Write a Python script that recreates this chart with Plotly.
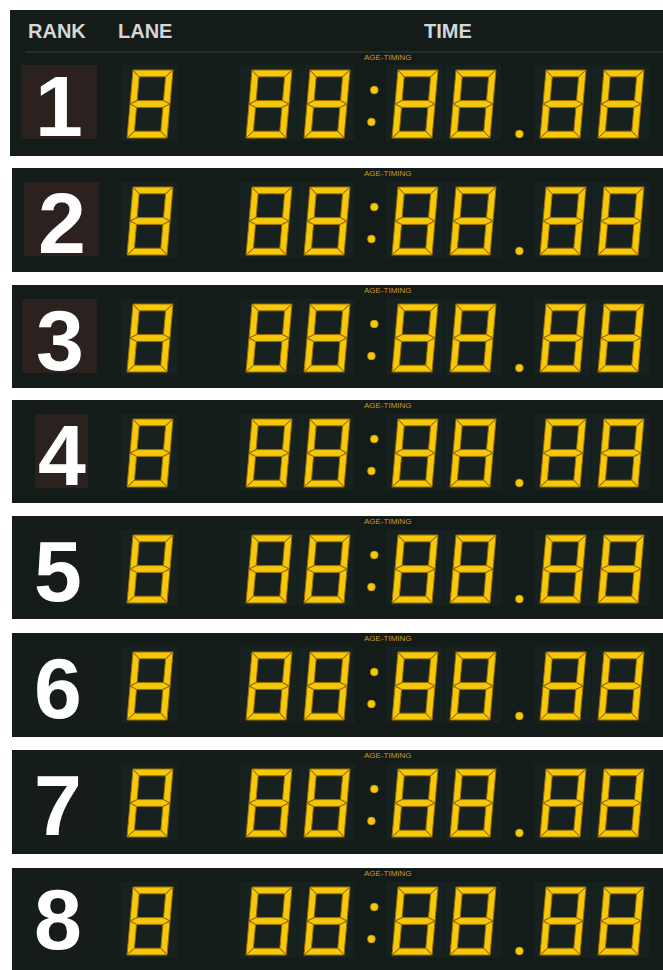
import plotly.graph_objects as go

# ---------------- data ----------------
ranks = ["1", "2", "3", "4", "5", "6", "7", "8"]
lanes = ["8", "8", "8", "8", "8", "8", "8", "8"]
times = ["88:88.88", "88:88.88", "88:88.88", "88:88.88",
         "88:88.88", "88:88.88", "88:88.88", "88:88.88"]
header_labels = ["RANK", "LANE", "TIME"]
brand_label = "AGE-TIMING"

# ---------------- layout constants ----------------
FIG_W, FIG_H = 663, 970
PANEL_COLOR = "#141c1a"
SEG_FILL = "#f5c80a"
SEG_LINE = "#9c6f00"
panel_top = [10, 168, 285, 400, 516, 633, 750, 868]
panel_bot = [156, 272, 388, 503, 619, 737, 854, 980]
panel_left = [10, 12, 12, 12, 12, 12, 12, 12]
digit_bot = [138, 255, 372, 487, 603, 720, 837, 955]
rank_y_off = [32, 32, 32, 32, 32, 32, 32, 36]
rank_box = [(21, 97, "#2b221f"), (24, 99, "#2b221f"), (22, 97, "#2b221f"),
            (35, 88, "#2a221f"), (37, 92, "#161c1a"), (31, 92, "#161c1a"),
            (35, 92, "#161c1a"), (29, 92, "#161c1a")]
header_x = [57, 145, 448]

DH, DW, SL, T = 68.0, 40.0, 6.0, 6.8
LANE_X = 127
TIME_X = 246
DIG_ADV = 58
SEP_ADV = {":": 30, ".": 32}
SEP_OFF = {":": 8, ".": 11}


def tr(x0, yb, u, v):
    return x0 + u + SL * v / DH, yb - v


H, W, M = DH, DW, DH / 2
SEGMENTS = {
    "a": [(0, H), (W, H), (W - T, H - T), (T, H - T)],
    "d": [(0, 0), (W, 0), (W - T, T), (T, T)],
    "g": [(0, M), (T, M + T / 2), (W - T, M + T / 2), (W, M), (W - T, M - T / 2), (T, M - T / 2)],
    "f": [(0, H), (T, H - T), (T, M + T / 2), (0, M)],
    "e": [(0, 0), (0, M), (T, M - T / 2), (T, T)],
    "b": [(W, H), (W, M), (W - T, M + T / 2), (W - T, H - T)],
    "c": [(W, 0), (W - T, T), (W - T, M - T / 2), (W, M)],
}
DIGIT_SEGS = {
    "0": "abcdef", "1": "bc", "2": "abged", "3": "abgcd", "4": "fgbc",
    "5": "afgcd", "6": "afgedc", "7": "abc", "8": "abcdefg", "9": "abcdfg",
}

seg_x, seg_y = [], []
dot_x, dot_y = [], []
shapes = []
annotations = []


def add_digit(ch, x0, yb):
    shapes.append(dict(type="rect", xref="x", yref="y", x0=x0 - 6, x1=x0 + DW + SL + 5,
                       y0=yb - DH - 5, y1=yb + 3, line=dict(width=0),
                       fillcolor="#172120", layer="below"))
    for s in DIGIT_SEGS[ch]:
        for (u, v) in SEGMENTS[s] + [SEGMENTS[s][0]]:
            px, py = tr(x0, yb, u, v)
            seg_x.append(px)
            seg_y.append(py)
        seg_x.append(None)
        seg_y.append(None)


def add_sep(ch, x0, yb):
    if ch == ":":
        for v in (48, 16):
            px, py = tr(x0, yb, 0, v)
            dot_x.append(px)
            dot_y.append(py)
    else:
        px, py = tr(x0, yb, 0, 4)
        dot_x.append(px)
        dot_y.append(py)


shapes.append(dict(type="rect", xref="x", yref="y", x0=panel_left[0], x1=FIG_W + 5,
                   y0=panel_top[0], y1=panel_bot[0], line=dict(width=0),
                   fillcolor=PANEL_COLOR, layer="below"))
shapes.append(dict(type="line", xref="x", yref="y", x0=25, x1=FIG_W, y0=52, y1=52,
                   line=dict(color="#34403d", width=1), layer="below"))
for lbl, hx in zip(header_labels, header_x):
    annotations.append(dict(x=hx, y=31, xref="x", yref="y", text=lbl, showarrow=False,
                            font=dict(family="Liberation Sans", size=20, color="#d6d6d6",
                                      weight="bold"),
                            xanchor="center", yanchor="middle"))

for i, (rk, ln, tm) in enumerate(zip(ranks, lanes, times)):
    if i > 0:
        shapes.append(dict(type="rect", xref="x", yref="y", x0=panel_left[i], x1=FIG_W + 5,
                           y0=panel_top[i], y1=panel_bot[i], line=dict(width=0),
                           fillcolor=PANEL_COLOR, layer="below"))
    yb = digit_bot[i]
    bx0, bx1, bcol = rank_box[i]
    shapes.append(dict(type="rect", xref="x", yref="y", x0=bx0, x1=bx1,
                       y0=yb - 73, y1=yb + 1, line=dict(width=0),
                       fillcolor=bcol, layer="below"))
    annotations.append(dict(x=(bx0 + bx1) / 2 if i < 4 else 58, y=yb - rank_y_off[i],
                            xref="x", yref="y", text=rk, showarrow=False,
                            font=dict(family="Liberation Sans", size=86, color="#ffffff",
                                      weight="bold"),
                            xanchor="center", yanchor="middle"))
    brand_y = 57 if i == 0 else panel_top[i] + 5
    annotations.append(dict(x=388, y=brand_y, xref="x", yref="y", text=brand_label,
                            showarrow=False,
                            font=dict(family="Liberation Sans", size=8, color="#c8982c"),
                            xanchor="center", yanchor="middle"))
    add_digit(ln, LANE_X, yb)
    cx = TIME_X
    for ch in tm:
        if ch.isdigit():
            add_digit(ch, cx, yb)
            cx += DIG_ADV
        else:
            add_sep(ch, cx + SEP_OFF[ch], yb)
            cx += SEP_ADV[ch]

fig = go.Figure()
fig.add_trace(go.Scatter(x=seg_x, y=seg_y, mode="lines", fill="toself",
                         fillcolor=SEG_FILL, line=dict(color=SEG_LINE, width=1),
                         hoverinfo="skip", showlegend=False))
fig.add_trace(go.Scatter(x=dot_x, y=dot_y, mode="markers",
                         marker=dict(size=8, color=SEG_FILL,
                                     line=dict(color=SEG_LINE, width=0.5)),
                         hoverinfo="skip", showlegend=False))

fig.update_layout(
    width=FIG_W, height=FIG_H,
    margin=dict(l=0, r=0, t=0, b=0),
    paper_bgcolor="#ffffff", plot_bgcolor="#ffffff",
    xaxis=dict(range=[0, FIG_W], visible=False, fixedrange=True),
    yaxis=dict(range=[FIG_H, 0], visible=False, fixedrange=True),
    shapes=shapes,
    annotations=annotations,
)
fig.write_html("out.html", config={"displayModeBar": False},
               post_script="document.body.style.margin='0';document.body.style.overflow='hidden';")
